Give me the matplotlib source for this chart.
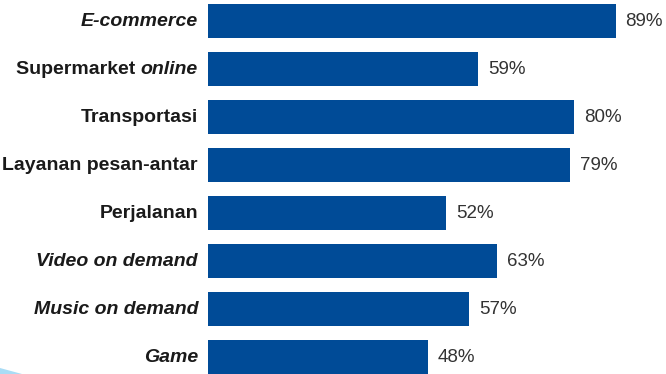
import matplotlib
matplotlib.use("Agg")
import matplotlib.pyplot as plt
from matplotlib.patches import Polygon

# Share of users per digital service category (%)
categories = [
    "E-commerce",
    "Supermarket online",
    "Transportasi",
    "Layanan pesan-antar",
    "Perjalanan",
    "Video on demand",
    "Music on demand",
    "Game",
]
values = [89, 59, 80, 79, 52, 63, 57, 48]
# (plain part, italic part) of each category label
label_parts = [
    ("", "E-commerce"),
    ("Supermarket ", "online"),
    ("Transportasi", ""),
    ("Layanan pesan-antar", ""),
    ("Perjalanan", ""),
    ("", "Video on demand"),
    ("", "Music on demand"),
    ("", "Game"),
]
value_labels = [f"{v}%" for v in values]

BAR_COLOR = "#004b97"
TEXT_COLOR = "#1a1a1a"
VALUE_COLOR = "#333333"
FONT = "Liberation Sans"
LABEL_SIZE = 14
VALUE_SIZE = 13.5

W, H, DPI = 666, 374, 100
fig = plt.figure(figsize=(W / DPI, H / DPI), dpi=DPI)
ax = fig.add_axes([208 / W, 0, 1 - 208 / W, 1])

pos = list(range(len(categories)))
ax.barh(pos, values, height=34 / 48, color=BAR_COLOR, zorder=2)
ax.set_xlim(0, 100)
ax.set_ylim((374 - 21) / 48, -21 / 48)
ax.axis("off")

# value labels just past the bar ends
for p, v, lab in zip(pos, values, value_labels):
    ax.annotate(lab, xy=(v, p), xytext=(10, 0), textcoords="offset pixels",
                ha="left", va="center", fontsize=VALUE_SIZE, family=FONT,
                color=VALUE_COLOR)

# category labels, right-aligned left of the bars, italics where needed
for p, (plain, ital) in zip(pos, label_parts):
    if ital:
        t = ax.annotate(ital, xy=(0, p), xytext=(-10, 0),
                        textcoords="offset pixels", ha="right", va="center",
                        fontsize=LABEL_SIZE, family=FONT, weight="bold",
                        style="italic", color=TEXT_COLOR)
        if plain:
            ax.annotate(plain, xy=(0, 0.5), xycoords=t, ha="right",
                        va="center", fontsize=LABEL_SIZE, family=FONT,
                        weight="bold", color=TEXT_COLOR)
    else:
        ax.annotate(plain, xy=(0, p), xytext=(-10, 0),
                    textcoords="offset pixels", ha="right", va="center",
                    fontsize=LABEL_SIZE, family=FONT, weight="bold",
                    color=TEXT_COLOR)

# small light-blue swoosh in the lower-left corner
fig.patches.append(Polygon([(0, 0), (22 / W, 0), (0, 6 / H)], closed=True,
                           transform=fig.transFigure, facecolor="#a9dcf5",
                           edgecolor="none"))

fig.savefig("out.png", dpi=DPI)
